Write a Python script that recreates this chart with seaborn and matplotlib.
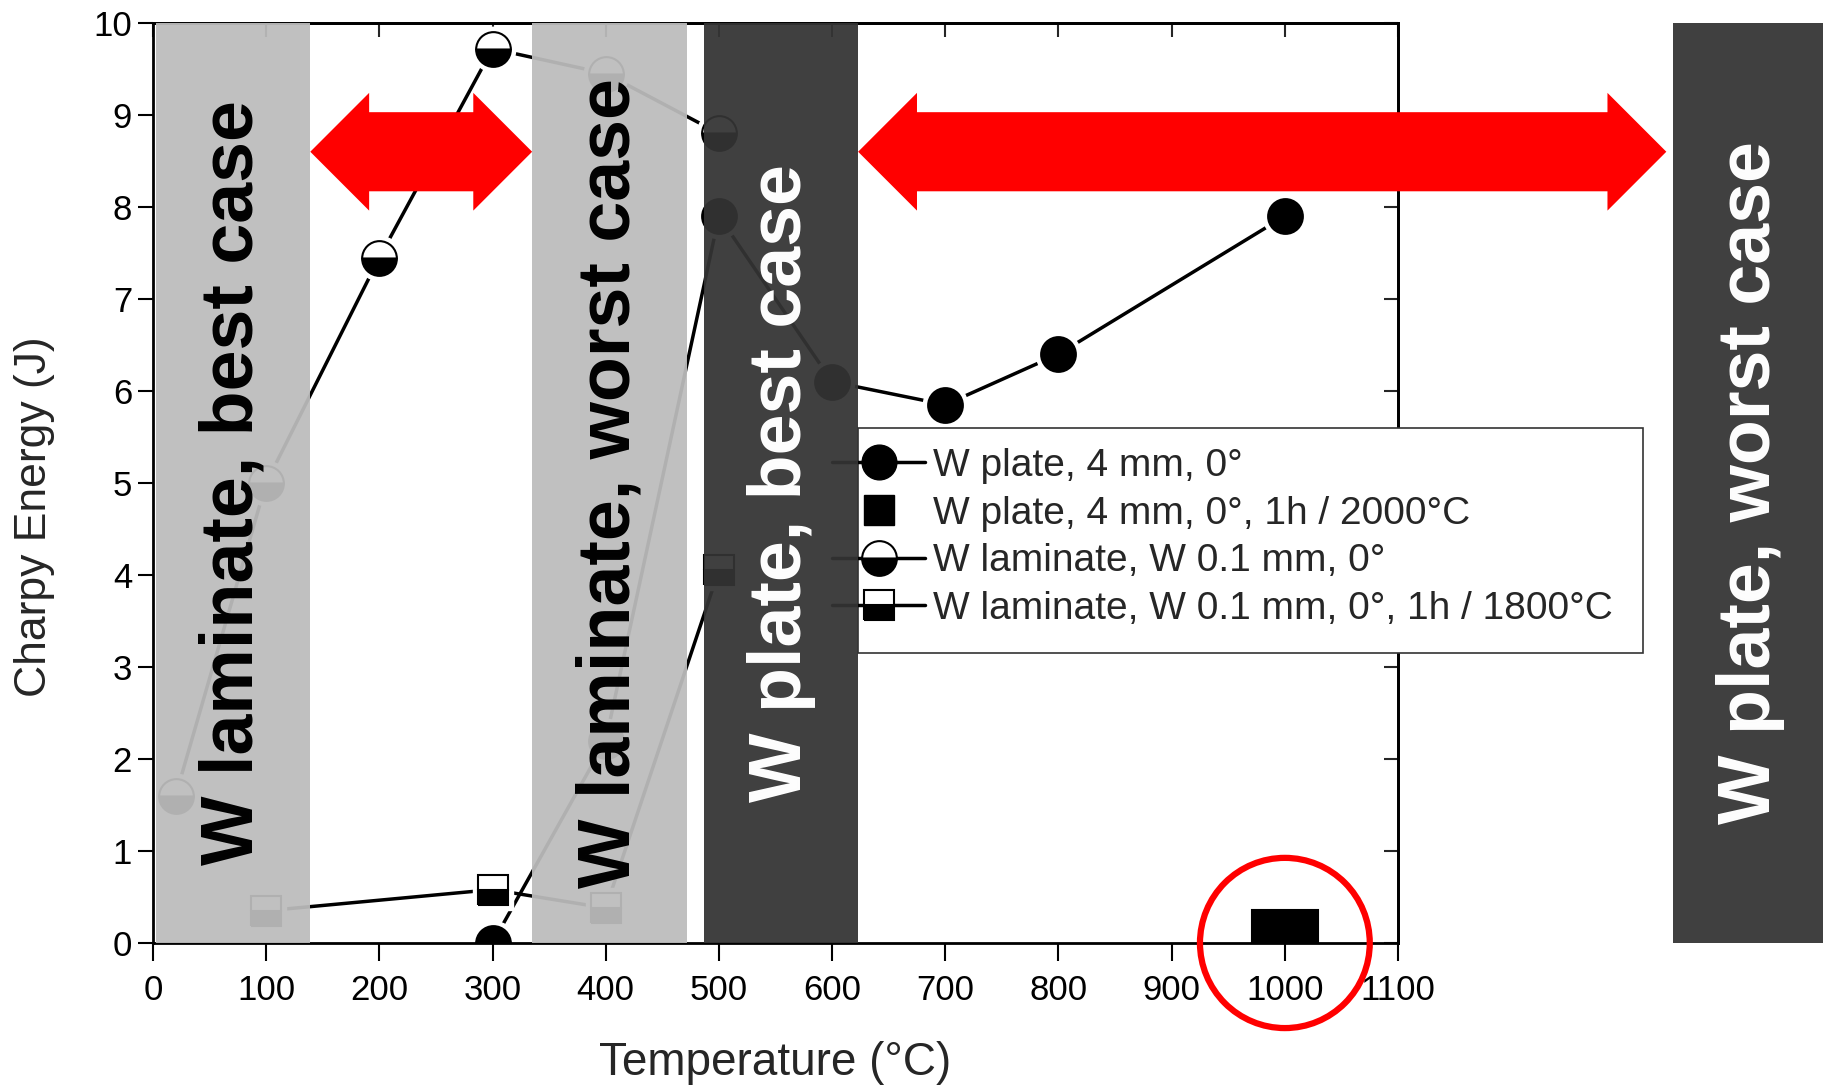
import numpy as np
import matplotlib
matplotlib.use('Agg')
import matplotlib.pyplot as plt
import matplotlib.patches as mpatches
from matplotlib.lines import Line2D
import seaborn as sns

# data
plate_T = [300, 400, 500, 600, 700, 800, 1000]
plate_E = [0.0, 2.2, 7.9, 6.1, 5.85, 6.4, 7.9]

anneal_T = [1000]
anneal_E = [0.0]

lam_T = [20, 100, 200, 300, 400, 500]
lam_E = [1.6, 5.0, 7.45, 9.72, 9.45, 8.8]

lam_an_T = [100, 300, 400, 500]
lam_an_E = [0.35, 0.58, 0.38, 4.05]

legend_labels = ['W plate, 4 mm, 0°',
                 'W plate, 4 mm, 0°, 1h / 2000°C',
                 'W laminate, W 0.1 mm, 0°',
                 'W laminate, W 0.1 mm, 0°, 1h / 1800°C']

# shaded regions (start, end) in °C, label, shade
band_x0 = [3, 335, 487, 1343]
band_x1 = [139, 472, 623, 1480]
band_text = ['W laminate, best case', 'W laminate, worst case',
             'W plate, best case', 'W plate, worst case']
band_dark = [False, False, True, True]

sns.set_theme(style='ticks')
plt.rcParams['font.family'] = ['Liberation Sans', 'DejaVu Sans']
plt.rcParams['axes.edgecolor'] = 'black'
plt.rcParams['axes.linewidth'] = 2

fig = plt.figure(figsize=(18.23, 10.87), dpi=100)
ax = fig.add_axes([0.0839, 0.1325, 0.683, 0.8464])


def series(x, y, marker, ms, fill='full', line=True):
    if line:
        sns.lineplot(x=x, y=y, ax=ax, color='black', lw=2.5, sort=False,
                     zorder=2, legend=False)
    ax.plot(x, y, ls='none', marker=marker, ms=ms + 7, mfc='white',
            mec='white', zorder=2.5)
    ax.plot(x, y, ls='none', marker=marker, ms=ms, fillstyle=fill,
            mfc='black', mfcalt='white', mec='black', mew=1.5, zorder=3)


series(plate_T, plate_E, 'o', 25)
series(lam_T, lam_E, 'o', 25, fill='bottom')
series(lam_an_T, lam_an_E, 's', 22, fill='bottom')
series(anneal_T, anneal_E, 's', 48, line=False)

ax.set_xlim(0, 1100)
ax.set_ylim(0, 10)
ax.set_xticks(range(0, 1101, 100))
ax.set_yticks(range(0, 11))
ax.tick_params(axis='x', direction='out', length=13, width=1.5,
               labelsize=25, pad=9, colors='black')
ax.tick_params(axis='y', direction='out', length=11, width=1.5,
               labelsize=25, pad=4, colors='black')

top = ax.secondary_xaxis('top')
top.set_xticks(range(0, 1101, 100))
top.tick_params(direction='in', length=10, width=1.5, labeltop=False)
right = ax.secondary_yaxis('right')
right.set_yticks(range(0, 11))
right.tick_params(direction='in', length=10, width=1.5, labelright=False)

ax.set_xlabel('Temperature (°C)', fontsize=33)
ax.set_ylabel('Charpy Energy (J)', fontsize=32)
ax.xaxis.set_label_coords(0.5, -0.107)
ax.yaxis.set_label_coords(-0.079, 0.463)

# legend: box starts at the dark band edge, handle lines run in under the band
handles = [
    Line2D([], [], color='black', lw=2.5, marker='o', ms=25, mfc='black', mec='black'),
    Line2D([], [], ls='none', marker='s', ms=22, mfc='black', mec='black'),
    Line2D([], [], color='black', lw=2.5, marker='o', ms=25, fillstyle='bottom',
           mfc='black', mfcalt='white', mec='black', mew=1.5),
    Line2D([], [], color='black', lw=2.5, marker='s', ms=22, fillstyle='bottom',
           mfc='black', mfcalt='white', mec='black', mew=1.5),
]
leg_box = mpatches.Rectangle((band_x1[2], 3.15), 1316 - band_x1[2], 5.6 - 3.15,
                             fc='white', ec='#333333', lw=1.2, zorder=3.4,
                             clip_on=False)
ax.add_patch(leg_box)
leg = ax.legend(handles, legend_labels, loc='upper left',
                bbox_to_anchor=(582, 5.6), bbox_transform=ax.transData,
                borderaxespad=0, fontsize=28, handlelength=2.4,
                handletextpad=0.2, labelspacing=0.30, borderpad=0.52,
                frameon=False)
leg.set_zorder(3.5)

# shaded bands with rotated labels
for x0, x1, txt, dark in zip(band_x0, band_x1, band_text, band_dark):
    span = ax.axvspan(x0, x1, ymin=0, ymax=1, color='#343434' if dark else '#bcbcbc',
                      alpha=0.94, lw=0, zorder=4)
    span.set_clip_on(False)
    ax.text((x0 + x1) / 2, 5, txt, rotation=90, ha='center', va='center',
            fontsize=53, fontweight='bold', color='white' if dark else 'black',
            zorder=6, clip_on=False)


def double_arrow(x0, x1, yc, shaft=0.43, head=0.64, hl=52):
    pts = [(x0, yc), (x0 + hl, yc + head), (x0 + hl, yc + shaft),
           (x1 - hl, yc + shaft), (x1 - hl, yc + head), (x1, yc),
           (x1 - hl, yc - head), (x1 - hl, yc - shaft),
           (x0 + hl, yc - shaft), (x0 + hl, yc - head)]
    ax.add_patch(mpatches.Polygon(pts, closed=True, fc='#ff0000', ec='none',
                                  zorder=5, clip_on=False))


double_arrow(band_x1[0], band_x0[1], 8.6)
double_arrow(band_x1[2], band_x0[3] - 6, 8.6)

# ring around the annealed plate result
ring = mpatches.Ellipse((anneal_T[0], anneal_E[0]), width=150, height=1.85,
                        fill=False, ec='#ff0000', lw=4.5, zorder=7, clip_on=False)
ax.add_patch(ring)

fig.savefig('out.png', dpi=100)
